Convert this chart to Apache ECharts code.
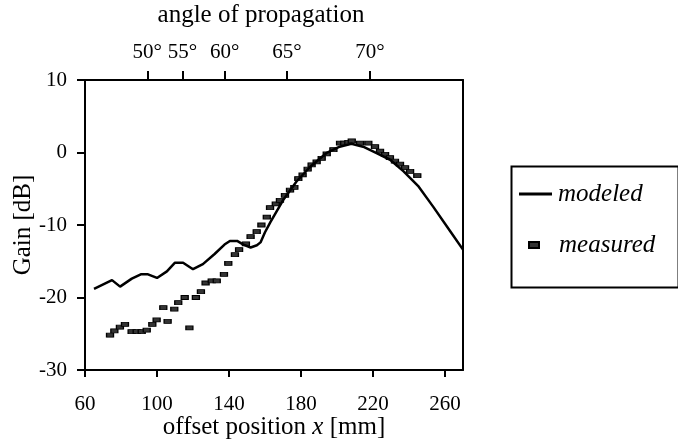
<!DOCTYPE html>
<html><head><meta charset="utf-8">
<script src="https://cdn.jsdelivr.net/npm/echarts@6/dist/echarts.min.js"></script>
<style>html,body{margin:0;padding:0;background:#fff}#c{width:678px;height:444px}</style>
</head><body><div id="c"></div>
<script>
// ---- data ----
const modeledX = [65, 75, 79.5, 86, 91, 95, 100, 105.5, 110, 114.5, 120, 125.5, 132, 137.5, 140.5, 144.5, 148, 152, 155.5, 157.5, 160, 163, 170, 177.5, 185, 194, 201.5, 208, 214.5, 222, 229.5, 237, 245, 253.5, 263, 270];
const modeledY = [-18.8, -17.6, -18.5, -17.4, -16.8, -16.8, -17.3, -16.4, -15.2, -15.2, -16.1, -15.4, -14.0, -12.7, -12.2, -12.2, -12.7, -13.1, -12.8, -12.4, -11.0, -9.6, -6.6, -4.0, -2.0, -0.1, 0.8, 1.2, 0.8, -0.1, -1.0, -2.6, -4.6, -7.5, -10.9, -13.4];
const measuredX = [73.9, 76.3, 79.4, 82.2, 85.9, 88.7, 91.5, 94.3, 97.4, 99.8, 103.5, 105.9, 109.6, 111.8, 115.4, 118, 121.6, 124.4, 127, 130.4, 133.2, 137.2, 139.6, 143.3, 145.6, 149.4, 152, 155.4, 158, 161, 162.8, 166, 168.3, 171.1, 173.9, 176.3, 178.5, 180.9, 183.7, 185.9, 188.7, 191.5, 194.3, 198, 201.7, 204, 206.3, 208.2, 212.8, 217.4, 221.1, 223.9, 226.7, 229.4, 232.2, 235, 237.8, 240.6, 244.6];
const measuredY = [-25.2, -24.6, -24.1, -23.7, -24.7, -24.7, -24.7, -24.5, -23.7, -23.1, -21.4, -23.3, -21.6, -20.7, -20.0, -24.2, -20.0, -19.2, -18.0, -17.7, -17.7, -16.8, -15.3, -14.1, -13.4, -12.6, -11.6, -10.9, -10.0, -8.9, -7.6, -7.1, -6.6, -5.9, -5.2, -4.8, -3.6, -3.1, -2.3, -1.7, -1.3, -0.8, -0.2, 0.4, 1.3, 1.3, 1.4, 1.6, 1.3, 1.3, 0.8, 0.2, -0.25, -0.7, -1.2, -1.6, -2.1, -2.6, -3.2];
const xTicks = [60, 100, 140, 180, 220, 260];
const yTicks = [-30, -20, -10, 0, 10];
const angleTickPos = [94.6, 114.1, 137.6, 172.2, 218.3];
const angleTickLabels = ['50°', '55°', '60°', '65°', '70°'];

const FONT = "'Liberation Serif', 'Times New Roman', serif";
const modeled = modeledX.map((x, i) => [x, modeledY[i]]);
const measured = measuredX.map((x, i) => [x, measuredY[i]]);

function angleLabel(v) {
  let best = 0, bd = Infinity;
  angleTickPos.forEach((p, i) => { const d = Math.abs(p - v); if (d < bd) { bd = d; best = i; } });
  return angleTickLabels[best];
}

function axisLine() { return { show: true, onZero: false, lineStyle: { color: '#000', width: 2 } }; }
function tickStyle() { return { color: '#000', width: 2 }; }
const chart = echarts.init(document.getElementById('c'), null, { renderer: 'canvas' });
chart.setOption({
  animation: false,
  backgroundColor: '#fff',
  grid: { left: 85, right: 215, top: 80, bottom: 74, containLabel: false, outerBoundsMode: 'none' },
  xAxis: [
    {
      type: 'value', position: 'bottom', min: 60, max: 270,
      axisLine: axisLine(),
      axisTick: { show: true, inside: false, length: 7, customValues: xTicks, lineStyle: tickStyle() },
      axisLabel: { show: true, customValues: xTicks, margin: 24, color: '#000', fontSize: 21, fontFamily: FONT },
      splitLine: { show: false },
      name: '{a|offset position }{b|x}{a| [mm]}',
      nameLocation: 'middle', nameGap: 45, nameMoveOverlap: false,
      nameTextStyle: {
        color: '#000',
        rich: {
          a: { fontSize: 25, fontFamily: FONT, color: '#000' },
          b: { fontSize: 25, fontFamily: FONT, fontStyle: 'italic', color: '#000' }
        }
      }
    },
    {
      type: 'value', position: 'top', min: 60, max: 270,
      axisLine: axisLine(),
      axisTick: { show: true, inside: false, length: 9, customValues: angleTickPos, lineStyle: tickStyle() },
      axisLabel: { show: true, customValues: angleTickPos, margin: 17, color: '#000', fontSize: 21, fontFamily: FONT, formatter: angleLabel },
      splitLine: { show: false },
      name: 'angle of propagation',
      nameLocation: 'middle', nameGap: 52, nameMoveOverlap: false,
      nameTextStyle: { color: '#000', fontSize: 25, fontFamily: FONT, padding: [0, 26, 0, 0] }
    }
  ],
  yAxis: [
    {
      type: 'value', position: 'left', min: -30, max: 10, interval: 10,
      axisLine: axisLine(),
      axisTick: { show: true, inside: false, length: 8, customValues: yTicks, lineStyle: tickStyle() },
      axisLabel: { show: true, customValues: yTicks, margin: 18, color: '#000', fontSize: 21, fontFamily: FONT },
      splitLine: { show: false },
      name: 'Gain [dB]',
      nameLocation: 'middle', nameGap: 49, nameMoveOverlap: false,
      nameTextStyle: { color: '#000', fontSize: 25, fontFamily: FONT }
    },
    {
      type: 'value', position: 'right', min: -30, max: 10,
      axisLine: axisLine(),
      axisTick: { show: false }, axisLabel: { show: false }, splitLine: { show: false }
    }
  ],
  legend: [
    {
      data: [{ name: 'modeled', icon: 'rect' }], left: 519, top: 181.5, padding: 0,
      itemWidth: 33, itemHeight: 3,
      textStyle: { color: '#000', fontSize: 25, fontFamily: FONT, fontStyle: 'italic', padding: [0, 0, 0, 1] }
    },
    {
      data: [{ name: 'measured', icon: 'rect' }], left: 528, top: 232.5, padding: 0,
      itemWidth: 10, itemHeight: 6,
      textStyle: { color: '#000', fontSize: 25, fontFamily: FONT, fontStyle: 'italic', padding: [0, 0, 0, 15] }
    }
  ],
  graphic: [
    { type: 'rect', left: 509, top: 164, shape: { width: 167, height: 121 }, style: { fill: 'none', stroke: '#000', lineWidth: 2 }, silent: true }
  ],
  series: [
    {
      name: 'modeled', type: 'line', xAxisIndex: 0, yAxisIndex: 0,
      data: modeled, symbol: 'none', smooth: false,
      lineStyle: { color: '#000', width: 2.5 }, itemStyle: { color: '#000' }
    },
    {
      name: 'measured', type: 'scatter', xAxisIndex: 0, yAxisIndex: 0,
      data: measured, symbol: 'rect', symbolSize: [7, 4],
      itemStyle: { color: '#333', borderColor: '#000', borderWidth: 1, opacity: 1 }
    }
  ]
});
</script>
</body></html>
